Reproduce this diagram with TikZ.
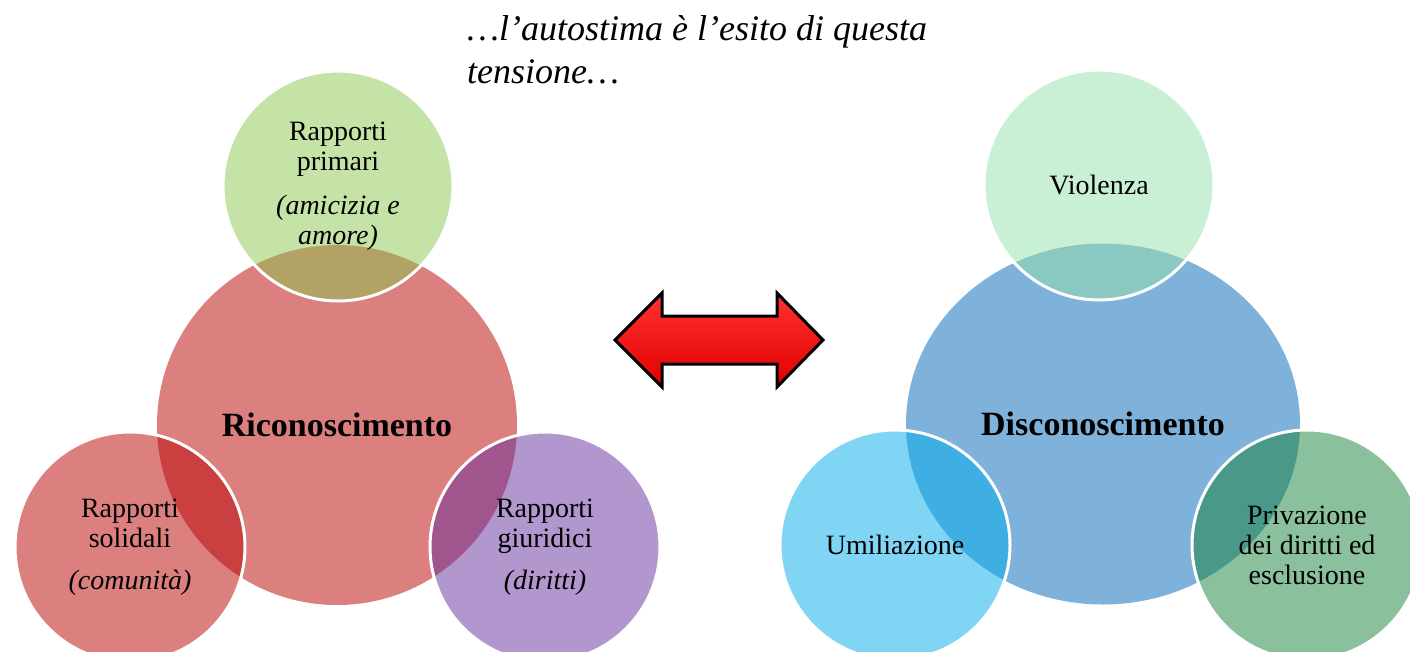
\documentclass[tikz,border=0pt]{standalone}
\usepackage{fontspec}
\setmainfont{Liberation Serif}
\usetikzlibrary{shapes,positioning}

\definecolor{ricred}{RGB}{185,0,0}
\definecolor{ricgreen}{RGB}{139,199,79}
\definecolor{ricpurple}{RGB}{101,45,157}
\definecolor{disblue}{RGB}{0,101,183}
\definecolor{disgreen}{RGB}{147,225,169}
\definecolor{discyan}{RGB}{1,171,235}
\definecolor{disdark}{RGB}{21,129,55}

\begin{document}
\begin{tikzpicture}[x=1pt,y=-1pt,
     big/.style = {circle, fill opacity=.5, text opacity=1, inner sep=0pt, minimum size=360pt,
      font=\fontsize{34}{40}\selectfont\bfseries},
     bigoval/.style = {big, ellipse, minimum width=394pt, minimum height=361pt},
     small/.style = {circle, draw=white, line width=3pt, draw opacity=1, fill opacity=.5, text opacity=1,
      inner sep=0pt, minimum size=230pt, align=center, font=\fontsize{28}{30}\selectfont},
     bigarrow/.style = {draw=black, line width=3pt, line join=miter,
      top color={rgb,255:red,255;green,50;blue,50}, middle color=red, bottom color=red!88!black},
     title/.style = {anchor=north west, align=left, inner sep=0pt,
      font=\fontsize{36}{43}\selectfont\itshape}
    ]
    \useasboundingbox (0,0) rectangle (1410,651);

    % left side
    \node [big, fill=ricred] (ric) at (337,425) {Riconoscimento};
    \node [small, fill=ricgreen] (primari) at (338,186)
      {Rapporti\\primari\\[14pt]\itshape(amicizia e\\\itshape amore)};
    \node [small, fill=ricred] (solidali) at (130,547)
      {Rapporti\\solidali\\[12pt]\itshape(comunità)};
    \node [small, fill=ricpurple] (giuridici) at (545,547)
      {Rapporti\\giuridici\\[12pt]\itshape(diritti)};

    % right side
    \node [bigoval, fill=disblue] (dis) at (1103,424) {Disconoscimento};
    \node [small, fill=disgreen] (violenza) at (1099,185) {Violenza};
    \node [small, fill=discyan] (umil) at (895,545) {Umiliazione};
    \node [small, fill=disdark] (priv) at (1307,545)
      {Privazione\\dei diritti ed\\esclusione};

    % the double arrow between the two sides
    \path [bigarrow] (615,340) -- (662,293) -- (662,316) -- (777,316) -- (777,293)
      -- (823,340) -- (777,387) -- (777,364) -- (662,364) -- (662,387) -- cycle;

    \node [title] (tension) at (467,15) {…l’autostima è l’esito di questa\\tensione…};
\end{tikzpicture}
\end{document}
